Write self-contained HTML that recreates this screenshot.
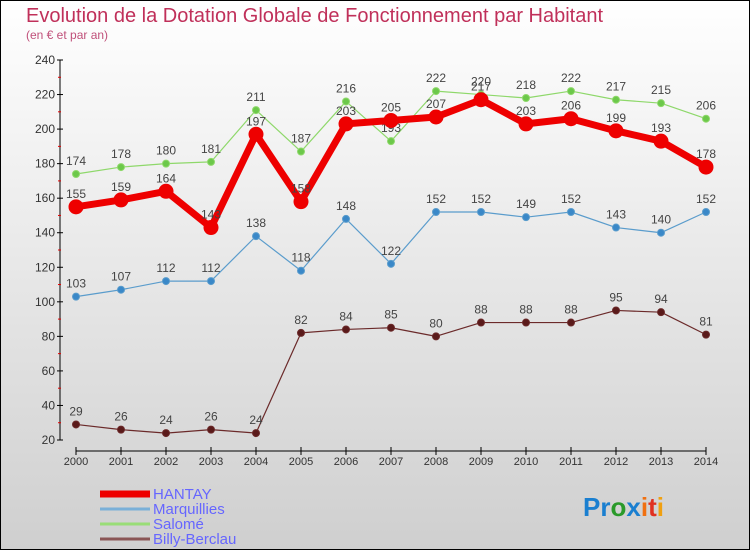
<!DOCTYPE html>
<html><head><meta charset="utf-8"><style>
body{margin:0;}
svg text{font-family:"Liberation Sans",sans-serif;}
</style></head><body>
<svg width="750" height="550" xmlns="http://www.w3.org/2000/svg">
<defs><linearGradient id="bg" x1="0" y1="0" x2="0" y2="1"><stop offset="0" stop-color="#ffffff"/><stop offset="1" stop-color="#cfcfcf"/></linearGradient></defs>
<rect x="0.5" y="0.5" width="749" height="549" fill="url(#bg)" stroke="#000"/>
<text x="26" y="22" font-size="20" fill="#c0305a">Evolution de la Dotation Globale de Fonctionnement par Habitant</text>
<text x="26" y="39" font-size="12" fill="#c0507a">(en € et par an)</text>
<g id="axes"></g>
<g id="series"></g>
<g id="legend"></g>
<text x="583" y="516" font-size="26" font-weight="bold"><tspan fill="#1a7fd0">Pr</tspan><tspan fill="#2a9a2a">o</tspan><tspan fill="#1a7fd0">x</tspan><tspan fill="#f07010">i</tspan><tspan fill="#e03020">t</tspan><tspan fill="#f0a010">i</tspan></text>
</svg>
<script>
const years=[2000,2001,2002,2003,2004,2005,2006,2007,2008,2009,2010,2011,2012,2013,2014];
const yTicks=[20,40,60,80,100,120,140,160,180,200,220,240];
const hantay=[155,159,164,143,197,158,203,205,207,217,203,206,199,193,178];
const marquillies=[103,107,112,112,138,118,148,122,152,152,149,152,143,140,152];
const salome=[174,178,180,181,211,187,216,193,222,220,218,222,217,215,206];
const billy=[29,26,24,26,24,82,84,85,80,88,88,88,95,94,81];
const NS="http://www.w3.org/2000/svg";
const xs=i=>76+i*45;
const ys=v=>60+(240-v)*380/220;
function mk(tag,at,parent){const e=document.createElementNS(NS,tag);for(const k in at)e.setAttribute(k,at[k]);parent.appendChild(e);return e;}
const ax=document.getElementById('axes');
let l=mk('line',{x1:60,y1:60,x2:60,y2:440,stroke:'#000'},ax);


l=mk('line',{x1:76,y1:451,x2:706,y2:451,stroke:'#000'},ax);


yTicks.forEach(v=>{
 mk('line',{x1:57,y1:ys(v),x2:63,y2:ys(v),stroke:'#000'},ax);
 if(v<240)mk('line',{x1:58,y1:ys(v+10),x2:61,y2:ys(v+10),stroke:'#e00000'},ax);
 const t=mk('text',{x:55,y:ys(v)+4,'font-size':12,fill:'#333','text-anchor':'end'},ax);t.textContent=v;
 
 
});
years.forEach((y,i)=>{
 mk('line',{x1:xs(i),y1:447,x2:xs(i),y2:455,stroke:'#000'},ax);
 const t=mk('text',{x:xs(i),y:465,'font-size':11,fill:'#333','text-anchor':'middle'},ax);t.textContent=y;
 
 
});
const sg=document.getElementById('series');
function series(data,color,w,r,dot,name){
 const g=mk('g',{},sg);
 
 
 mk('polyline',{points:data.map((v,i)=>xs(i)+','+ys(v)).join(' '),fill:'none',stroke:color,'stroke-width':w,'stroke-linejoin':'round'},g);
 data.forEach((v,i)=>{
  const c=mk('circle',{cx:xs(i),cy:ys(v),r:r,fill:dot,stroke:color,'stroke-width':1},g);
  
  
  const t=mk('text',{x:xs(i),y:ys(v)-9,'font-size':12,fill:'#444','text-anchor':'middle'},g);t.textContent=v;
  
  
 });
}
series(billy,'#6b2a2a',1.2,3.5,'#5a1a1a','billy-berclau');
series(marquillies,'#5a9ccc',1.2,3.5,'#3a88c8','marquillies');
series(salome,'#8ed86a',1.2,3.5,'#6cc84a','salome');
series(hantay,'#ee0000',7,7,'#ee0000','hantay');
const lg=document.getElementById('legend');
[['HANTAY','#ee0000',7],['Marquillies','#7ab0d8',3],['Salomé','#99dd77',3],['Billy-Berclau','#8a5555',3]].forEach((d,i)=>{
 const y=493+i*15;
 const g=mk('g',{},lg);
 
 
 mk('line',{x1:100,y1:y+1,x2:150,y2:y+1,stroke:d[1],'stroke-width':d[2]},g);
 const t=mk('text',{x:153,y:y+6,'font-size':15,fill:'#6666ff'},g);t.textContent=d[0];
});
</script>
</body></html>
